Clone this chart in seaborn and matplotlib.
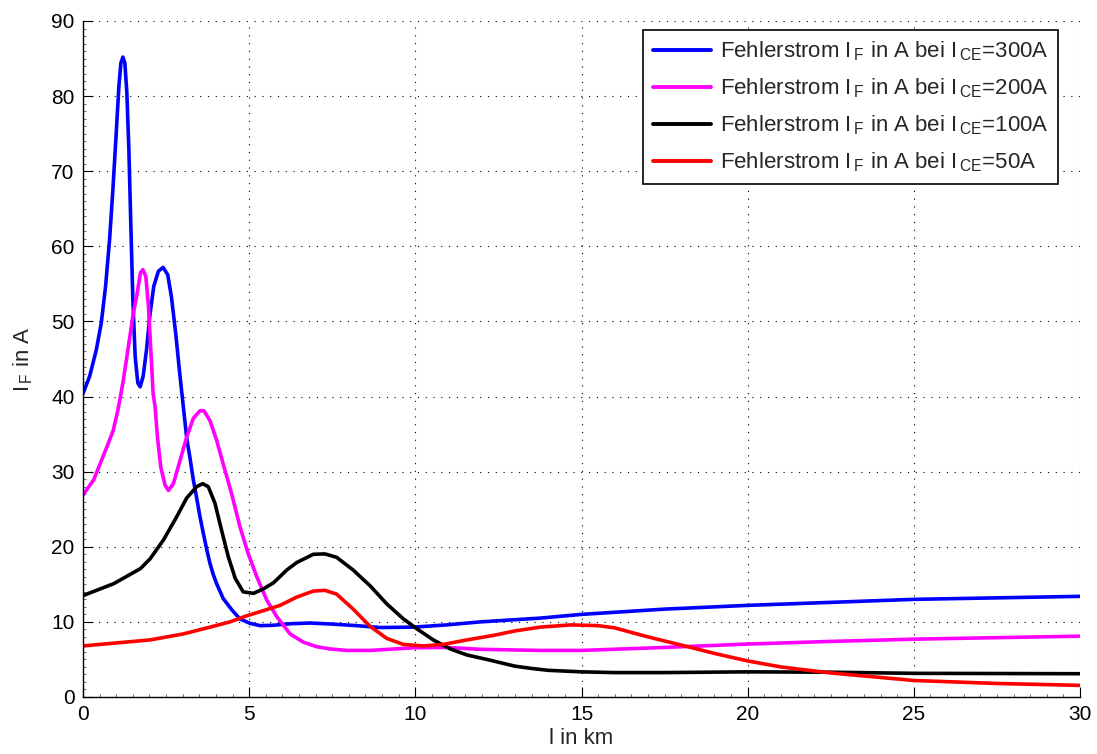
import matplotlib
matplotlib.use("Agg")
import matplotlib.pyplot as plt
from matplotlib.ticker import MultipleLocator
from matplotlib.lines import Line2D
import seaborn as sns
import pandas as pd

# ---- data ----
x_300 = [0, 0.20, 0.40, 0.55, 0.68, 0.80, 0.90, 1.00, 1.08, 1.14, 1.20, 1.26, 1.32, 1.38, 1.44, 1.50,
         1.57, 1.65, 1.72, 1.81, 1.91, 2.01, 2.13, 2.27, 2.41, 2.55, 2.66, 2.79, 2.91, 3.01, 3.12, 3.22,
         3.32, 3.42, 3.52, 3.62, 3.72, 3.82, 3.92, 4.02, 4.22, 4.48, 4.72, 5.03, 5.33, 5.73, 6.23, 6.83,
         7.53, 8.23, 8.94, 9.94, 10.94, 11.95, 13.75, 15, 17.5, 20, 22.5, 25, 27.5, 30]
y_300 = [40.4, 42.7, 46.2, 49.8, 54.7, 60.9, 67.6, 75.1, 81.3, 84.4, 85.2, 84.4, 80.4, 72.9, 62.7, 52.9,
         45.3, 41.8, 41.3, 42.7, 46.2, 50.7, 54.7, 56.7, 57.2, 56.2, 53.3, 48.4, 43.1, 39.0, 34.5, 31.8,
         28.9, 26.5, 24.0, 21.8, 19.7, 17.8, 16.3, 15.1, 13.1, 11.6, 10.4, 9.8, 9.5, 9.55, 9.75, 9.85,
         9.7, 9.5, 9.25, 9.3, 9.6, 10.0, 10.5, 11.0, 11.7, 12.2, 12.6, 13.0, 13.2, 13.4]

x_200 = [0, 0.32, 0.72, 0.91, 1.05, 1.20, 1.35, 1.50, 1.62, 1.73, 1.80, 1.89, 1.97, 2.04, 2.11, 2.17,
         2.24, 2.34, 2.47, 2.57, 2.72, 2.92, 3.12, 3.32, 3.52, 3.64, 3.82, 4.02, 4.22, 4.47, 4.72, 4.97,
         5.23, 5.53, 5.83, 6.23, 6.63, 7.03, 7.43, 7.93, 8.64, 9.94, 10.94, 11.95, 13.75, 15, 17.5, 20,
         22.5, 25, 27.5, 30]
y_200 = [26.9, 28.9, 33.3, 35.5, 38.2, 41.8, 46.2, 50.7, 53.5, 56.5, 56.9, 56.0, 52.0, 46.2, 40.4, 38.6,
         34.6, 30.6, 28.2, 27.5, 28.4, 31.5, 34.6, 37.1, 38.1, 38.1, 36.8, 34.2, 31.0, 27.1, 22.7, 19.1,
         16.0, 12.9, 10.7, 8.4, 7.3, 6.7, 6.4, 6.2, 6.2, 6.55, 6.6, 6.35, 6.2, 6.2, 6.6, 7.05,
         7.4, 7.7, 7.9, 8.1]

x_100 = [0, 0.93, 1.73, 2.02, 2.42, 2.82, 3.12, 3.42, 3.60, 3.77, 3.97, 4.17, 4.37, 4.58, 4.82, 5.13,
         5.43, 5.73, 6.13, 6.43, 6.93, 7.28, 7.63, 8.13, 8.64, 9.14, 9.64, 10.04, 10.54, 11.05, 11.55,
         12.25, 13.0, 13.5, 14.0, 15, 16, 17.5, 20, 22.5, 25, 30]
y_100 = [13.5, 15.1, 17.1, 18.4, 20.9, 24.0, 26.5, 28.0, 28.4, 28.0, 25.8, 22.2, 18.7, 15.8, 14.0, 13.8,
         14.4, 15.2, 16.9, 17.9, 19.0, 19.05, 18.6, 16.9, 14.8, 12.4, 10.4, 9.1, 7.6, 6.4, 5.6,
         4.9, 4.1, 3.8, 3.55, 3.35, 3.25, 3.25, 3.35, 3.3, 3.15, 3.1]

x_50 = [0, 2.02, 3.02, 3.82, 4.42, 4.92, 5.43, 5.93, 6.43, 6.93, 7.28, 7.63, 8.13, 8.64, 9.14, 9.64,
        10.24, 10.84, 11.55, 12.35, 13.0, 13.75, 14.68, 15.5, 16, 17, 18.2, 19, 20, 21, 22.5, 25,
        27.5, 30]
y_50 = [6.8, 7.6, 8.4, 9.3, 10.0, 10.8, 11.5, 12.2, 13.3, 14.1, 14.2, 13.7, 11.7, 9.4, 7.8, 7.0,
        6.8, 7.0, 7.6, 8.2, 8.8, 9.3, 9.6, 9.5, 9.2, 8.0, 6.7, 5.8, 4.8, 4.0, 3.2, 2.2,
        1.8, 1.55]

labels = [r"Fehlerstrom I$_{\,\mathregular{F}}$ in A bei I$_{\,\mathregular{CE}}$=300A",
          r"Fehlerstrom I$_{\,\mathregular{F}}$ in A bei I$_{\,\mathregular{CE}}$=200A",
          r"Fehlerstrom I$_{\,\mathregular{F}}$ in A bei I$_{\,\mathregular{CE}}$=100A",
          r"Fehlerstrom I$_{\,\mathregular{F}}$ in A bei I$_{\,\mathregular{CE}}$=50A"]
colors = ["#0000ff", "#ff00ff", "#000000", "#ff0000"]

frames = []
for xs, ys, lab in zip([x_300, x_200, x_100, x_50], [y_300, y_200, y_100, y_50], labels):
    frames.append(pd.DataFrame({"l": xs, "I": ys, "series": lab}))
df = pd.concat(frames, ignore_index=True)

sns.set_style("white")
plt.rcParams["font.family"] = ["Liberation Sans", "DejaVu Sans"]
plt.rcParams["mathtext.default"] = "regular"

fig = plt.figure(figsize=(10.97, 7.54), dpi=100)
ax = fig.add_axes([83 / 1097, 57 / 754, 997 / 1097, 676 / 754])

sns.lineplot(data=df, x="l", y="I", hue="series", hue_order=labels, palette=colors,
             sort=False, estimator=None, linewidth=2.6, ax=ax, legend=False)
for ln in ax.get_lines():
    ln.set_solid_joinstyle("round")
    ln.set_solid_capstyle("round")

ax.set_xlim(0, 30)
ax.set_ylim(0, 90)
ax.xaxis.set_major_locator(MultipleLocator(5))
ax.yaxis.set_major_locator(MultipleLocator(10))
ax.xaxis.set_minor_locator(MultipleLocator(0.5))
ax.yaxis.set_minor_locator(MultipleLocator(1))
ax.tick_params(which="both", bottom=True, left=True, top=False, right=False)
ax.tick_params(which="major", direction="in", length=7, width=0.8, labelsize=15, color="black",
               labelcolor="black", pad=6)
ax.tick_params(which="minor", direction="in", length=2.5, width=0.5, color="#333333")
ax.grid(True, which="major", color="black", linestyle=(0, (1, 6)), linewidth=0.8)
for s in ["top", "right"]:
    ax.spines[s].set_visible(False)
for s in ["left", "bottom"]:
    ax.spines[s].set_color("black")
    ax.spines[s].set_linewidth(1.0)

ax.set_xlabel("l in km", fontsize=16, labelpad=3)
ax.set_ylabel(r"I$_{\,\mathregular{F}}$ in A", fontsize=16, labelpad=12)

handles = [Line2D([0], [0], color=c, linewidth=2.8) for c in colors]
leg = ax.legend(handles, labels, loc="upper right", bbox_to_anchor=(0.978, 0.987), borderaxespad=0,
                fontsize=16, fancybox=False, framealpha=1, edgecolor="black", handlelength=2.6,
                handletextpad=0.4, labelspacing=0.6, borderpad=0.45)
leg.get_frame().set_linewidth(1.2)

fig.savefig("out.png", dpi=100)
